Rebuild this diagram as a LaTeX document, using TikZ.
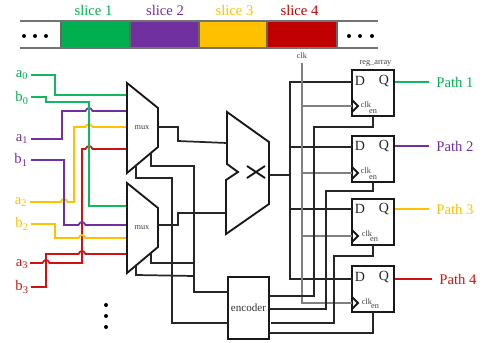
\documentclass[tikz,border=0pt]{standalone}
\usepackage{fontspec}
\setmainfont{Liberation Serif}
\definecolor{cg}{HTML}{00B050}
\definecolor{cp}{HTML}{7030A0}
\definecolor{cy}{HTML}{FFC000}
\definecolor{cr}{HTML}{C00000}
\definecolor{wr}{HTML}{CC1414}
\definecolor{wg}{HTML}{10B860}
\tikzset{
  lab/.style={inner sep=0pt,font=\fontsize{11}{12}\selectfont},
  inlab/.style={inner sep=0pt,font=\fontsize{10.5}{11}\selectfont},
  tiny/.style={inner sep=0pt,text=black!75,font=\fontsize{6.2}{7}\selectfont},
  slicebox/.style={draw=black!55,line width=0.9pt},
  wire/.style={line width=1.3pt,line join=miter},
  bw/.style={wire,black!85!white},
  gw/.style={line width=1.1pt,black!50},
  outl/.style={line width=1.4pt,black!90,line join=miter},
  hopx/.style 2 args={insert path={-- (#1-3.5,#2) .. controls (#1-2,#2-4) and (#1+2,#2-4) .. (#1+3.5,#2)}},
  dotn/.style={circle,fill=black,inner sep=0pt,minimum size=3pt}
}
\begin{document}
\begin{tikzpicture}[x=0.75pt,y=-0.75pt]
\useasboundingbox (0,0) rectangle (483,343);
% top strip
\foreach \xa/\xb/\c/\n in {61/130/cg/s1,130/199/cp/s2,199/267/cy/s3,267/337/cr/s4}{
  \fill[\c] (\xa,21) rectangle (\xb,48);
  \draw[line width=0.9pt,black!60] (\xa,21) -- (\xa,48) (\xb,21) -- (\xb,48);
}
\draw[slicebox] (20,21) -- (378,21) (20,48) -- (378,48);
\node[lab,text=cg] (t1) at (93.5,10) {slice 1};
\node[lab,text=cp] (t2) at (165,10) {slice 2};
\node[lab,text=cy] (t3) at (234.5,10) {slice 3};
\node[lab,text=cr] (t4) at (299.5,10) {slice 4};
\foreach \x/\n in {24/a,35/b,46/c,349/d,360/e,372/f}{\node[dotn] (td\n) at (\x,36) {};}
\foreach \y/\n in {305/a,316/b,327/c}{\node[dotn] (bd\n) at (106,\y) {};}
% input labels
\node[lab,text=cg] (a0) at (22,75) {a\textsubscript{0}};
\node[lab,text=cg] (b0) at (22,98) {b\textsubscript{0}};
\node[lab,text=cp] (a1) at (22,139) {a\textsubscript{1}};
\node[lab,text=cp] (b1) at (21,160) {b\textsubscript{1}};
\node[lab,text=cy] (a2) at (21,202) {a\textsubscript{2}};
\node[lab,text=cy] (b2) at (22,224) {b\textsubscript{2}};
\node[lab,text=wr] (a3) at (22,264) {a\textsubscript{3}};
\node[lab,text=wr] (b3) at (22,287) {b\textsubscript{3}};
% input wires
\draw[wire,wr] (30,263) [hopx={46}{263}] -- (82,263) -- (82,149) [hopx={89}{149}] -- (127,149);
\draw[wire,wr] (31,287) -- (46,287) -- (46,254) [hopx={82}{254}] -- (127,254);
\draw[wire,cp] (31,139) -- (62,139) -- (62,111) [hopx={89}{111}] -- (127,111);
\draw[wire,cy] (30,202) [hopx={64}{202}] -- (74,202) -- (74,127) [hopx={89}{127}] -- (127,127);
\draw[wire,wg] (31,75) -- (55,75) -- (55,95) -- (127,95);
\draw[wire,wg] (31,97) -- (46,97) -- (46,102) -- (89,102) -- (89,206) -- (127,206);
\draw[wire,cp] (31,160) -- (64,160) -- (64,225) [hopx={82}{225}] -- (127,225);
\draw[wire,cy] (31,224) -- (55,224) -- (55,238) [hopx={82}{238}] -- (127,238);
% muxes
\draw[outl,fill=white] (127,83) coordinate (m1tl) -- (158,108) -- (158,147) -- (127,173) -- cycle;
\draw[outl,fill=white] (127,183) coordinate (m2tl) -- (158,208) -- (158,247) -- (127,273) -- cycle;
\node[tiny] (m1) at (142,128) {mux};
\node[tiny] (m2) at (142,228) {mux};
% big selector
\draw[outl] (227,112) -- (269,142) -- (269,204) -- (226,234) -- (226,180) -- (238,172) -- (227,164) -- cycle;
\draw[outl] (247,166) -- (265,178) (247,178) -- (265,166);
% encoder
\node[draw,line width=1.4pt,black!90,minimum width=41pt*0.75,minimum height=62pt*0.75,inner sep=0pt,text=black!80,font=\fontsize{8.3}{9}\selectfont] (enc) at (248.5,308) {encoder};
% black wires
\draw[bw] (158,127) -- (178,127) -- (178,141) -- (227,143);
\draw[bw] (158,225) -- (178,225) -- (178,213) -- (226,213);
\draw[bw] (151,153) -- (151,166) -- (194,166) -- (194,292) -- (228,292);
\draw[bw] (136,165) -- (136,178) -- (172,178) -- (172,323) -- (228,323);
\draw[bw] (151,253) -- (151,263) -- (194,263);
\draw[bw] (136,266) -- (136,275) -- (194,276);
% registers
\foreach \t/\n in {70/1,136/2,199/3,266/4}{
  \node[draw,line width=1.4pt,black!90,fill=white,minimum width=42pt*0.75,minimum height=46pt*0.75,inner sep=0pt] (r\n) at (373,\t+23) {};
}
\node[tiny] (ra) at (375.5,63) {reg\_array};
% data bus
\draw[bw] (269,175) -- (290,175);
\draw[bw] (352,82) -- (290,82) -- (290,279) -- (352,279);
\draw[bw] (290,147) -- (352,147);
\draw[bw] (290,209) -- (352,209);
% clock
\node[tiny] (ck) at (302,56) {clk};
\draw[gw] (302,63) -- (302,303) -- (352,303);
\draw[gw] (302,106) -- (352,106);
\draw[gw] (302,173) -- (352,173);
\draw[gw] (302,236) -- (352,236);
% enables
\draw[bw] (269,296) -- (314,296) -- (314,127) -- (373,127) -- (373,116);
\draw[bw] (269,309) -- (326,309) -- (326,191) -- (373,191) -- (373,182);
\draw[bw] (271,323) -- (334,323) -- (334,256) -- (373,256) -- (373,245);
\draw[bw] (269,333) -- (373,333) -- (373,312);
% register contents
\foreach \n/\dy/\cy/\ey/\cx/\ex/\ty in {1/81/105/112/366/373/106,2/146/171/178/366/373/173,3/209/234/240/367/374/236,4/277/302/307/367/375/303}{
  \node[inlab,text=black!85] (d\n) at (360,\dy) {D};
  \node[inlab,text=black!85] (q\n) at (384,\dy) {Q};
  \node[tiny] (c\n) at (\cx,\cy) {clk};
  \node[tiny] (e\n) at (\ex,\ey) {en};
  \draw[outl] (352,\ty-6) -- (358,\ty) -- (352,\ty+6);
}
% outputs
\node[lab,text=cg] (p1) at (455,82) {Path 1};
\node[lab,text=cp] (p2) at (455,146) {Path 2};
\node[lab,text=cy] (p3) at (455,209) {Path 3};
\node[lab,text=wr] (p4) at (458,279) {Path 4};
\draw[wire,wg] (r1.east|-p1) -- (429,82);
\draw[wire,cp] (r2.east|-p2) -- (429,146);
\draw[wire,cy] (r3.east|-p3) -- (429,209);
\draw[wire,wr] (r4.east|-p4) -- (432,279);
\end{tikzpicture}
\end{document}
